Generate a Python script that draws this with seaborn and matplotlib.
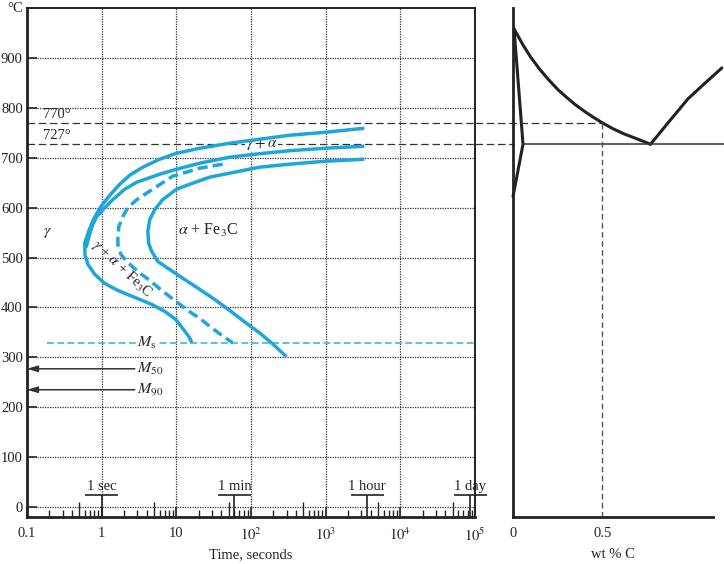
import matplotlib
matplotlib.use("Agg")
import matplotlib.pyplot as plt
import seaborn as sns
from matplotlib.ticker import LogLocator, NullFormatter

# ---------------- data (TTT diagram, 0.5 wt% C steel) ----------------
start1_t = [3300, 993, 328, 130, 51.8, 20.6, 10.1, 6.0, 3.56, 2.38, 1.75, 1.29, 0.975, 0.787,
            0.675, 0.596, 0.596, 0.655, 0.811, 1.10, 1.65, 2.78, 4.69, 7.0, 9.8, 12.6, 15.1, 16.1]
start1_T = [759, 751, 745, 737, 729, 719, 709, 697, 681, 665, 647, 625, 602, 578,
            554, 530, 506, 486, 466, 448, 434, 420, 406, 392, 376, 355, 339, 329]

start2_t = [3300, 993, 328, 130, 51.8, 20.6, 10.1, 6.0, 2.96, 2.04, 1.41, 1.07, 0.86, 0.76,
            0.70, 0.655, 0.615]
start2_T = [723, 719, 714, 708, 701, 689, 677, 667, 651, 637, 616, 598, 582, 566,
            550, 534, 520]

half_t = [41.7, 20.6, 8.95, 4.83, 2.96, 2.24, 1.92, 1.70, 1.65, 1.65, 1.81, 2.24, 3.05, 4.41,
          6.38, 9.5, 14.2, 20.6, 29.7, 41.7, 56.7]
half_T = [687, 679, 663, 637, 616, 600, 582, 562, 540, 526, 506, 490, 472, 454,
          434, 414, 394, 378, 359, 343, 329]

finish_t = [3300, 993, 328, 130, 60.4, 28, 16.6, 10.1, 6.57, 5.14, 4.41, 4.15, 4.27, 4.69,
            5.64, 8.17, 12.9, 20.6, 32.6, 51.8, 82, 130, 195, 299]
finish_T = [697, 693, 687, 681, 671, 661, 649, 637, 616, 596, 576, 552, 528, 512,
            492, 476, 456, 436, 416, 394, 371, 349, 327, 301]

ms_temp = 329
m50_temp = 277
m90_temp = 235
a3_temp = 770
a1_temp = 727

time_ticks = [0.1, 1, 10, 100, 1000, 1e4, 1e5]
time_tick_labels = ["0.1", "1", "10", "$10^{2}$", "$10^{3}$", "$10^{4}$", "$10^{5}$"]
temp_ticks = [0, 100, 200, 300, 400, 500, 600, 700, 800, 900]
marker_times = [1, 60, 3600, 86400]
marker_labels = ["1 sec", "1 min", "1 hour", "1 day"]

# ---------------- data (Fe-Fe3C phase diagram portion) ----------------
a3_wt = [0.006, 0.056, 0.10, 0.15, 0.20, 0.25, 0.30, 0.35, 0.40, 0.45, 0.50, 0.56, 0.62, 0.70, 0.77]
a3_T = [958, 926, 901, 877, 856, 837, 821, 806, 793, 781, 770, 758, 748, 737, 727]
acm_wt = [0.77, 0.88, 0.98, 1.08, 1.17]
acm_T = [727, 775, 818, 851, 880]
solvus_wt = [0.006, 0.056, 0.0]
solvus_T = [958, 727, 622]
eutectoid_wt = [0.056, 1.18]
alloy_wt = 0.5
wt_ticks = [0, 0.5]
wt_tick_labels = ["0", "0.5"]

# ---------------- style ----------------
sns.set_theme(style="white")
plt.rcParams["font.family"] = ["Liberation Serif", "DejaVu Serif"]
plt.rcParams["mathtext.fontset"] = "stix"
plt.rcParams["font.size"] = 10.5

BLUE = "#1ea6da"
MSBLUE = "#35aed6"
INK = "#222222"
FS = 10.5

fig = plt.figure(figsize=(7.24, 5.64), dpi=100)
ax = fig.add_axes([27 / 724, 47 / 564, 448 / 724, 509 / 564])
ax2 = fig.add_axes([513 / 724, 47 / 564, 200 / 724, 509 / 564])

# ---------------- left panel ----------------
ax.set_xscale("log")
ax.set_xlim(0.1, 1e5)
ax.set_ylim(-20, 1000)

grid_kw = dict(color="#333333", lw=0.9, linestyle=(0, (1, 1)), zorder=1)
for t in time_ticks[1:-1]:
    ax.axvline(t, **grid_kw)
for T in temp_ticks:
    ax.axhline(T, **grid_kw)

ax.hlines([a3_temp, a1_temp], 0.1, 1e5, colors="#333333", lw=0.9,
          linestyles=[(0, (6, 3))], zorder=2)

for tt, TT in [(start1_t, start1_T), (start2_t, start2_T), (finish_t, finish_T)]:
    sns.lineplot(x=tt, y=TT, sort=False, estimator=None, ax=ax, color=BLUE,
                 lw=2.5, zorder=4, solid_capstyle="butt", solid_joinstyle="round")
sns.lineplot(x=half_t, y=half_T, sort=False, estimator=None, ax=ax, color=BLUE,
             lw=2.5, zorder=4, linestyle=(0, (2.9, 1.5)))

ax.hlines(ms_temp, 0.185, 1e5, colors=MSBLUE, lw=1.1, linestyles=[(0, (4.5, 2.2))], zorder=3)
ax.text(4.0, ms_temp, r"$M_{\rm s}$", ha="center", va="center", fontsize=FS + 1,
        bbox=dict(facecolor="white", edgecolor="none", pad=0.5), zorder=3.5)

for temp, lab in [(m50_temp, r"$M_{50}$"), (m90_temp, r"$M_{90}$")]:
    ax.annotate("", xy=(0.1, temp), xytext=(2.78, temp),
                arrowprops=dict(arrowstyle="-|>,head_length=0.6,head_width=0.18",
                                color="#333333", lw=1.1, shrinkA=0, shrinkB=0))
    ax.text(2.95, temp, lab, ha="left", va="center", fontsize=FS + 1)

ax.text(0.165, a3_temp + 4, "770°", ha="left", va="bottom", fontsize=FS)
ax.text(0.165, a1_temp + 4, "727°", ha="left", va="bottom", fontsize=FS)
ax.text(0.19, 552, r"$\gamma$", ha="center", va="center", fontsize=FS + 1)
ax.text(10.4, 554, r"$\alpha$ + Fe$_3$C", ha="left", va="center", fontsize=FS + 1)
ax.text(138, a1_temp, r"$\gamma + \alpha$", ha="center", va="center", fontsize=FS + 0.5,
        bbox=dict(facecolor="white", edgecolor="none", pad=0.3), zorder=3.5)
ax.text(1.86, 478, r"$\gamma$ + $\alpha$ + Fe$_3$C", ha="center", va="center",
        fontsize=FS, rotation=-43, rotation_mode="anchor", zorder=5)

# ticks
ax.set_xticks(time_ticks)
ax.set_xticklabels(time_tick_labels)
ax.xaxis.set_minor_locator(LogLocator(base=10, subs=(2, 3, 4, 6, 7, 8, 9), numticks=20))
ax.xaxis.set_minor_formatter(NullFormatter())
ax.set_yticks(temp_ticks)
ax.set_yticklabels([str(v) for v in temp_ticks])
ax.tick_params(axis="x", which="both", bottom=True, top=False)
ax.tick_params(axis="y", which="both", left=True, right=False)
ax.tick_params(axis="x", which="major", direction="in", length=7.5, width=1.2,
               color=INK, pad=7, labelsize=FS, labelcolor=INK)
ax.tick_params(axis="x", which="minor", direction="in", length=5, width=1.0, color=INK)
ax.tick_params(axis="y", which="major", direction="in", length=7.5, width=1.2,
               color=INK, pad=3, labelsize=FS, labelcolor=INK)

xt = ax.get_xaxis_transform()
fives = [5 * 10 ** k for k in range(-1, 5)]
ax.vlines(fives, 0, 15 / 509, transform=xt, colors=INK, lw=1.0, clip_on=False)
ax.vlines(marker_times, 0, 22 / 509, transform=xt, colors=INK, lw=1.2, clip_on=False)
for t, lab in zip(marker_times, marker_labels):
    ax.hlines(22 / 509, t / 1.66, t * 1.66, transform=xt, colors=INK, lw=1.2, clip_on=False)
    ax.text(t, 24 / 509, lab, transform=xt, ha="center", va="bottom", fontsize=FS, color=INK)

ax.set_xlabel("Time, seconds", fontsize=FS, color=INK, labelpad=3)
ax.set_ylabel("")
for side in ["left", "bottom"]:
    ax.spines[side].set_linewidth(2.0)
for side in ["top", "right"]:
    ax.spines[side].set_linewidth(1.4)
for s in ax.spines.values():
    s.set_color(INK)

fig.text(15 / 724, 1 - 9 / 564, "°C", ha="center", va="center", fontsize=FS, color=INK)

# ---------------- right panel ----------------
ax2.set_xlim(0, 1.12)
ax2.set_ylim(-20, 1000)
for ww, TT in [(a3_wt, a3_T), (acm_wt, acm_T), (solvus_wt, solvus_T)]:
    sns.lineplot(x=ww, y=TT, sort=False, estimator=None, ax=ax2, color=INK, lw=2.2,
                 solid_joinstyle="round")
for ln in ax2.lines:
    ln.set_clip_on(False)
ax2.hlines(a1_temp, eutectoid_wt[0], eutectoid_wt[1], colors="#333333", lw=1.1, clip_on=False)
ax2.hlines(a3_temp, -0.215, alloy_wt, colors="#333333", lw=0.9, linestyles=[(0, (6, 3))], clip_on=False)
ax2.hlines(a1_temp, -0.215, 0.0, colors="#333333", lw=0.9, linestyles=[(0, (6, 3))], clip_on=False)
ax2.vlines(alloy_wt, -20, a3_temp, colors="#555555", lw=1.0, linestyles=[(0, (4, 2.5))])

ax2.set_xticks(wt_ticks)
ax2.set_xticklabels(wt_tick_labels)
ax2.set_yticks([])
ax2.tick_params(axis="x", length=0, pad=7, labelsize=FS, labelcolor=INK)
ax2.set_xlabel("wt % C", fontsize=FS, color=INK, labelpad=6)
ax2.set_ylabel("")
for side in ["top", "right"]:
    ax2.spines[side].set_visible(False)
for side in ["left", "bottom"]:
    ax2.spines[side].set_linewidth(2.0)
    ax2.spines[side].set_color(INK)

fig.savefig("out.png", dpi=100)
